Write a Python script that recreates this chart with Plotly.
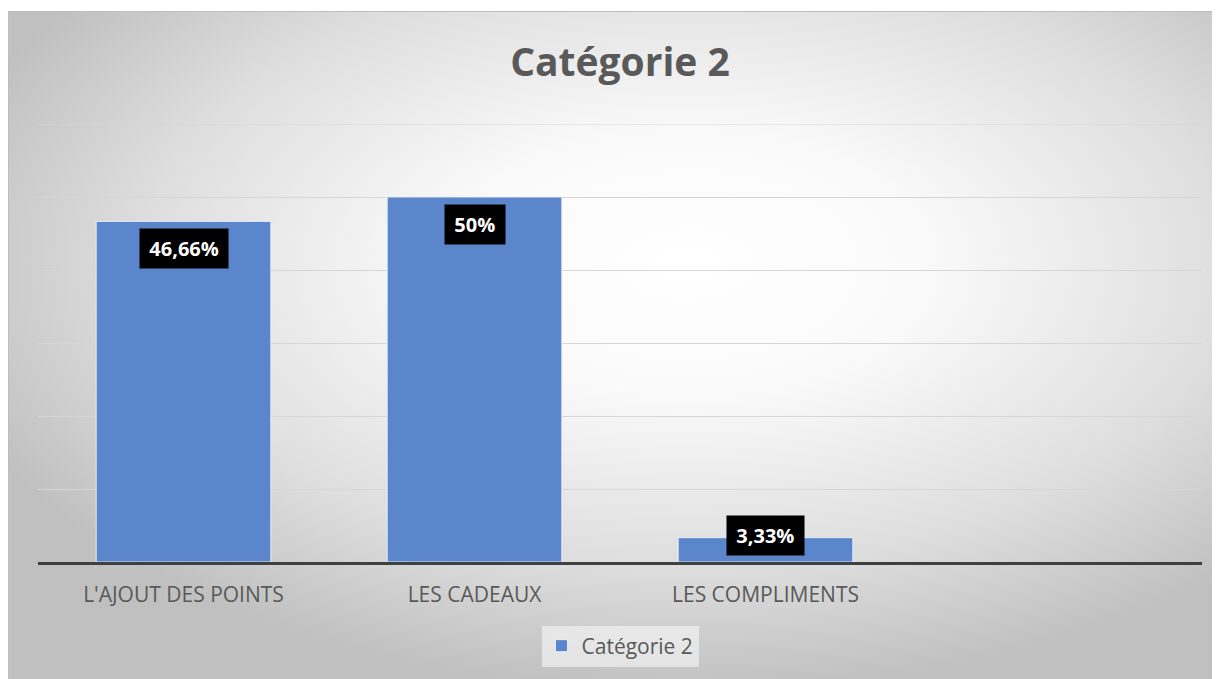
import base64
import plotly.graph_objects as go

categories = ["L'AJOUT DES POINTS", "LES CADEAUX", "LES COMPLIMENTS"]
values = [46.66, 50, 3.33]
labels = ["46,66%", "50%", "3,33%"]
series_name = "Catégorie 2"
title = "Catégorie 2"

# page has an 8px body margin; figure coordinates are page coordinates minus 8
W, H = 1212, 671
L, R, T, B = 30, 18, 116, 117
pw, ph = W - L - R, H - T - B
ymax = 60

fw, fh = W, H - 3
svg = f'''<svg xmlns="http://www.w3.org/2000/svg" width="{fw}" height="{fh}" viewBox="0 0 {fw} {fh}" preserveAspectRatio="none">
<defs><radialGradient id="g" cx="0.56" cy="0.38" r="0.64" fx="0.56" fy="0.38">
<stop offset="0" stop-color="#ffffff"/><stop offset="0.3" stop-color="#fafafa"/>
<stop offset="0.7" stop-color="#dedede"/><stop offset="1" stop-color="#c0c0c0"/></radialGradient></defs>
<rect x="0" y="0" width="{fw}" height="{fh}" fill="url(#g)"/>
<line x1="0" y1="0.5" x2="{fw}" y2="0.5" stroke="#bdbdbd" stroke-width="1"/>
<line x1="0.5" y1="0" x2="0.5" y2="{fh}" stroke="#bdbdbd" stroke-width="1"/>
</svg>'''
src = "data:image/svg+xml;base64," + base64.b64encode(svg.encode()).decode()

xs = list(range(len(categories)))
fig = go.Figure()
fig.add_trace(go.Bar(
    x=xs, y=values, name=series_name,
    marker=dict(color="#5b86cb", line=dict(color="rgba(235,240,250,0.9)", width=1)),
    width=0.6, showlegend=True, hoverinfo="skip",
))

off = 27 * ymax / ph
for xi, v, lab in zip(xs, values, labels):
    fig.add_annotation(
        x=xi, y=max(v - off, off), text="<b>\u2009" + lab + "\u2009</b>", showarrow=False,
        font=dict(family="Open Sans", size=20, color="white"),
        bgcolor="black", borderpad=6, yanchor="middle", xanchor="center",
    )

fig.add_shape(type="line", xref="paper", yref="y", x0=0, x1=1, y0=ymax, y1=ymax,
              line=dict(color="#d6d6d6", width=1), layer="below")

fig.add_layout_image(
    source=src, xref="paper", yref="paper",
    x=(0 - L) / pw, y=(H - B - 3) / ph,
    sizex=fw / pw, sizey=fh / ph,
    xanchor="left", yanchor="top", sizing="stretch", layer="below",
)

fig.update_layout(
    width=W, height=H,
    margin=dict(l=L, r=R, t=T, b=B),
    paper_bgcolor="white", plot_bgcolor="rgba(0,0,0,0)",
    title=dict(text="<b>" + title + "</b>", x=0.5, xref="paper", xanchor="center",
               y=1 - 54 / H, yanchor="middle",
               font=dict(family="Open Sans", size=39, color="#595959")),
    xaxis=dict(range=[-0.5, 3.5], tickvals=xs, ticktext=categories,
               showgrid=False, zeroline=False, showline=True, linecolor="#404040", linewidth=3,
               ticks="", ticklabelstandoff=12,
               tickfont=dict(family="Open Sans", size=21, color="#595959")),
    yaxis=dict(range=[0, ymax], dtick=10, showticklabels=False, showgrid=True,
               gridcolor="#d6d6d6", gridwidth=1, zeroline=False, showline=False, fixedrange=True),
    legend=dict(orientation="h", x=0.5, xanchor="center", y=(H - B - 638) / ph, yanchor="middle",
                bgcolor="rgba(248,248,248,0.6)", borderwidth=0,
                font=dict(family="Open Sans", size=21, color="#595959")),
    bargap=0.4,
)

fig.write_html("out.html")
